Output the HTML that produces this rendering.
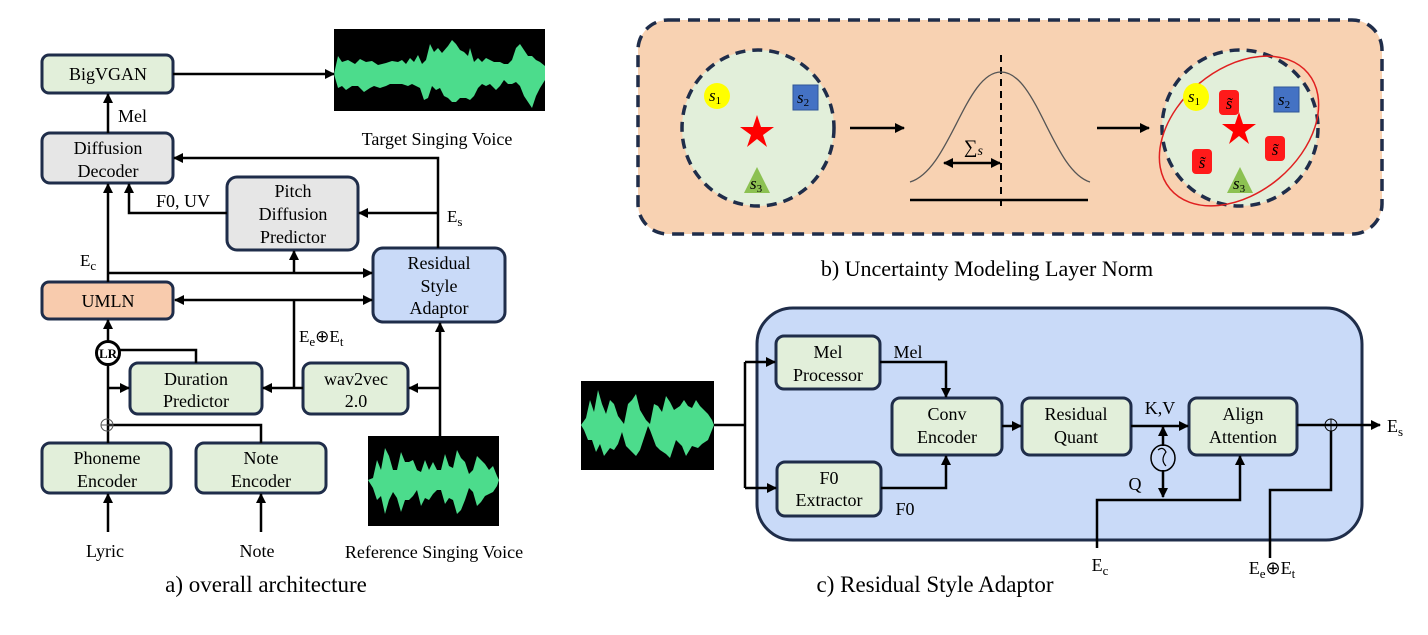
<!DOCTYPE html>
<html><head><meta charset="utf-8"><style>
html,body{margin:0;padding:0;background:#fff;}
svg, svg text{font-family:"Liberation Serif","Times New Roman",serif;}
</style></head><body>
<svg width="1428" height="630" viewBox="0 0 1428 630" xmlns="http://www.w3.org/2000/svg" font-family="Liberation Serif, serif">
<defs>
<marker id="a" markerWidth="10" markerHeight="10" refX="9" refY="5" orient="auto" markerUnits="userSpaceOnUse"><path d="M0,0 L10,5 L0,10 z" fill="#000"/></marker>
<marker id="as" markerWidth="10" markerHeight="10" refX="1" refY="5" orient="auto" markerUnits="userSpaceOnUse"><path d="M10,0 L0,5 L10,10 z" fill="#000"/></marker>
</defs>
<g stroke="#1f2d4a" stroke-width="3">
<rect x="42" y="55" width="131" height="38" rx="7" fill="#e2efda"/>
<rect x="42" y="133" width="131" height="50" rx="8" fill="#e6e6e6"/>
<rect x="227" y="177" width="131" height="73" rx="10" fill="#e6e6e6"/>
<rect x="373" y="248" width="132" height="74" rx="10" fill="#c9daf8"/>
<rect x="42" y="282" width="131" height="37" rx="7" fill="#f8cbad"/>
<rect x="130" y="363" width="132" height="51" rx="8" fill="#e2efda"/>
<rect x="303" y="363" width="105" height="51" rx="8" fill="#e2efda"/>
<rect x="42" y="443" width="129" height="50" rx="8" fill="#e2efda"/>
<rect x="196" y="443" width="130" height="50" rx="8" fill="#e2efda"/>
</g>
<rect x="334" y="29" width="211" height="82" fill="#000"/>
<polygon fill="#4cdc8c" points="334,74 338,56 342,62 348,60 355,64 360,59 366,62 372,61 378,65 386,63 392,61 398,62 402,60 406,64 410,58 414,62 418,55 422,64 426,60 430,44 434,52 438,48 442,53 448,46 452,40 456,44 460,50 464,52 468,56 470,48 474,62 478,58 482,62 486,58 490,60 494,62 500,62 504,64 508,64 512,60 516,48 520,44 524,50 528,56 532,56 536,60 540,62 545,66 545,80 540,88 536,96 532,108 528,102 524,96 520,86 516,82 512,84 508,84 504,80 500,86 496,90 490,84 486,86 482,84 478,88 474,96 470,100 466,98 460,98 456,102 452,102 448,98 444,96 440,88 436,90 432,86 428,98 424,100 420,88 416,86 412,84 408,86 402,84 398,84 394,84 390,84 386,86 380,88 374,86 370,88 364,92 358,86 352,86 346,90 342,86 338,88"/>
<rect x="368" y="436" width="131" height="90" fill="#000"/>
<polygon fill="#4cdc8c" points="368,480 373,478 377,460 381,470 385,448 389,456 393,470 397,470 401,452 405,462 409,462 413,460 417,470 421,472 425,460 429,470 433,462 437,470 441,470 445,454 449,466 453,468 457,450 461,458 465,462 469,474 473,470 477,456 481,460 485,464 489,470 493,466 497,476 499,480 497,486 493,492 489,494 485,496 481,502 477,506 473,492 469,488 465,500 461,510 457,514 453,500 449,498 445,504 441,490 437,490 433,494 429,500 425,498 421,506 417,490 413,496 409,500 405,500 401,512 397,498 393,492 389,500 385,514 381,496 377,500 373,488"/>
<g stroke="#000" stroke-width="2.5" fill="none">
<line x1="173" y1="74" x2="334" y2="74" marker-end="url(#a)"/>
<line x1="108" y1="133" x2="108" y2="94" marker-end="url(#a)"/>
<polyline points="438,248 438,158 174,158" marker-end="url(#a)"/>
<line x1="438" y1="213" x2="359" y2="213" marker-end="url(#a)"/>
<polyline points="227,213 129,213 129,184" marker-end="url(#a)"/>
<line x1="108" y1="282" x2="108" y2="184" marker-end="url(#a)"/>
<line x1="108" y1="273" x2="372" y2="273" marker-end="url(#a)"/>
<line x1="294" y1="273" x2="294" y2="251" marker-end="url(#a)"/>
<line x1="175" y1="300" x2="372" y2="300" marker-end="url(#a)" marker-start="url(#as)"/>
<polyline points="294,300 294,388"/>
<line x1="303" y1="388" x2="263" y2="388" marker-end="url(#a)"/>
<polyline points="120,350 196,350 196,363"/>
<line x1="108" y1="365" x2="108" y2="443"/>
<line x1="108" y1="388" x2="129" y2="388" marker-end="url(#a)"/>
<line x1="108" y1="341" x2="108" y2="320" marker-end="url(#a)"/>
<polyline points="108,425 261,425 261,443"/>
<line x1="440" y1="436" x2="440" y2="323" marker-end="url(#a)"/>
<line x1="440" y1="388" x2="409" y2="388" marker-end="url(#a)"/>
<line x1="108" y1="532" x2="108" y2="494" marker-end="url(#a)"/>
<line x1="261" y1="532" x2="261" y2="494" marker-end="url(#a)"/>
</g>
<circle cx="108" cy="353" r="11.5" fill="#fff" stroke="#000" stroke-width="3"/>
<text x="108" y="358" font-size="13" font-weight="bold" text-anchor="middle">LR</text>
<circle cx="107" cy="425" r="6" fill="none" stroke="#555" stroke-width="1"/>
<line x1="101" y1="425" x2="113" y2="425" stroke="#555"/>
<g font-size="18" text-anchor="middle" fill="#000">
<text x="108" y="80">BigVGAN</text>
<text x="108" y="154">Diffusion</text><text x="108" y="177">Decoder</text>
<text x="293" y="197">Pitch</text><text x="293" y="220">Diffusion</text><text x="293" y="243">Predictor</text>
<text x="439" y="269">Residual</text><text x="439" y="292">Style</text><text x="439" y="314">Adaptor</text>
<text x="108" y="307">UMLN</text>
<text x="196" y="385">Duration</text><text x="196" y="407">Predictor</text>
<text x="356" y="385">wav2vec</text><text x="356" y="407">2.0</text>
<text x="107" y="464">Phoneme</text><text x="107" y="487">Encoder</text>
<text x="261" y="464">Note</text><text x="261" y="487">Encoder</text>
<text x="118" y="122" text-anchor="start">Mel</text>
<text x="156" y="207" text-anchor="start">F0, UV</text>
<text x="437" y="145">Target Singing Voice</text>
<text x="105" y="557">Lyric</text>
<text x="257" y="557">Note</text>
<text x="434" y="558">Reference Singing Voice</text>
<text x="266" y="592" font-size="23">a) overall architecture</text>
<text x="447" y="222" font-size="17" text-anchor="start">E<tspan font-size="13" dy="4">s</tspan></text>
<text x="80" y="266" font-size="17" text-anchor="start">E<tspan font-size="13" dy="4">c</tspan></text>
<text x="299" y="342" font-size="17" text-anchor="start">E<tspan font-size="13" dy="4">e</tspan><tspan dy="-4">⊕E</tspan><tspan font-size="13" dy="4">t</tspan></text>
</g>
<!-- part b -->
<rect x="638" y="20" width="744" height="214" rx="30" fill="#f8d2b2" stroke="#1f2d4a" stroke-width="3.5" stroke-dasharray="12,8"/>
<ellipse cx="758" cy="128" rx="76" ry="78" fill="#e2efda" stroke="#1f2d4a" stroke-width="3.5" stroke-dasharray="10,7"/>
<ellipse cx="1240" cy="128" rx="78" ry="78" fill="#e2efda" stroke="#1f2d4a" stroke-width="3.5" stroke-dasharray="10,7"/>
<ellipse cx="1239" cy="131" rx="62" ry="90" transform="rotate(50 1239 131)" fill="none" stroke="#e02020" stroke-width="1.5"/>
<ellipse cx="717" cy="96" rx="13" ry="13" fill="#ffff00"/>
<rect x="793" y="85" width="25" height="25" fill="#4472c4" stroke="#2f5597"/>
<polygon points="757,167 744,193 770,193" fill="#8cc152"/>
<polygon points="757,115 761,127 774,127 763,135 767,147 757,139 747,147 751,135 740,127 753,127" fill="#ff0000"/>
<ellipse cx="1196" cy="97" rx="13" ry="14" fill="#ffff00"/>
<rect x="1274" y="87" width="25" height="25" fill="#4472c4" stroke="#2f5597"/>
<polygon points="1240,167 1227,193 1253,193" fill="#8cc152"/>
<polygon points="1239,112 1243,124 1256,124 1245,132 1249,144 1239,136 1229,144 1233,132 1222,124 1235,124" fill="#ff0000"/>
<rect x="1219" y="90" width="20" height="25" rx="4" fill="#ff1a1a"/>
<rect x="1265" y="136" width="20" height="25" rx="4" fill="#ff1a1a"/>
<rect x="1192" y="149" width="20" height="25" rx="4" fill="#ff1a1a"/>
<g font-size="17" font-style="italic" text-anchor="middle">
<text x="715" y="101">s<tspan font-size="11" dy="3" font-style="normal">1</tspan></text>
<text x="803" y="103">s<tspan font-size="11" dy="3" font-style="normal">2</tspan></text>
<text x="756" y="189">s<tspan font-size="11" dy="3" font-style="normal">3</tspan></text>
<text x="1194" y="102">s<tspan font-size="11" dy="3" font-style="normal">1</tspan></text>
<text x="1284" y="105">s<tspan font-size="11" dy="3" font-style="normal">2</tspan></text>
<text x="1239" y="189">s<tspan font-size="11" dy="3" font-style="normal">3</tspan></text>
<text x="1229" y="109">s̃</text><text x="1275" y="155">s̃</text><text x="1202" y="168">s̃</text>
</g>
<g stroke="#000" stroke-width="2.5" fill="none">
<line x1="850" y1="128" x2="904" y2="128" marker-end="url(#a)"/>
<line x1="1097" y1="128" x2="1149" y2="128" marker-end="url(#a)"/>
<line x1="910" y1="200" x2="1088" y2="200"/>
<line x1="1001" y1="55" x2="1001" y2="207" stroke-width="2" stroke-dasharray="7,5"/>
<line x1="944" y1="163" x2="1000" y2="163" marker-end="url(#a)" marker-start="url(#as)"/>
</g>
<path d="M910,182 C950,170 965,72 1001,72 C1037,72 1052,170 1090,182" fill="none" stroke="#555" stroke-width="1.3"/>
<text x="964" y="153" font-size="19">∑<tspan font-style="italic" font-size="14" dy="2">s</tspan></text>
<text x="987" y="276" font-size="22" text-anchor="middle">b) Uncertainty Modeling Layer Norm</text>
<!-- part c -->
<rect x="757" y="308" width="605" height="232" rx="36" fill="#c9daf8" stroke="#1f2d4a" stroke-width="3"/>
<rect x="581" y="381" width="133" height="89" fill="#000"/>
<polygon fill="#4cdc8c" points="581,425 586,418 590,400 594,412 598,390 602,404 606,414 610,400 614,404 618,416 624,424 628,404 632,400 636,394 640,410 646,420 650,424 654,404 658,406 662,412 666,396 670,402 674,410 680,406 684,400 688,406 692,408 696,400 700,406 704,410 708,414 712,420 714,425 712,430 708,440 702,444 698,448 692,446 686,456 682,446 676,440 670,458 666,454 660,450 656,446 650,430 648,426 644,438 640,450 636,456 630,450 626,446 622,432 618,444 614,450 610,448 604,456 600,444 596,452 592,440 588,440 584,430"/>
<g stroke="#1f2d4a" stroke-width="3">
<rect x="776" y="336" width="104" height="53" rx="8" fill="#e2efda"/>
<rect x="777" y="462" width="104" height="54" rx="8" fill="#e2efda"/>
<rect x="892" y="398" width="110" height="57" rx="8" fill="#e2efda"/>
<rect x="1022" y="398" width="109" height="57" rx="8" fill="#e2efda"/>
<rect x="1189" y="398" width="108" height="57" rx="8" fill="#e2efda"/>
</g>
<g stroke="#000" stroke-width="2.5" fill="none">
<line x1="714" y1="425" x2="745" y2="425"/>
<polyline points="745,362 745,488"/>
<line x1="745" y1="362" x2="775" y2="362" marker-end="url(#a)"/>
<line x1="745" y1="488" x2="776" y2="488" marker-end="url(#a)"/>
<polyline points="880,362 946,362 946,397" marker-end="url(#a)"/>
<polyline points="881,488 946,488 946,456" marker-end="url(#a)"/>
<line x1="1002" y1="426" x2="1021" y2="426" marker-end="url(#a)"/>
<line x1="1131" y1="426" x2="1188" y2="426" marker-end="url(#a)"/>
<line x1="1163" y1="446" x2="1163" y2="427" marker-end="url(#a)"/>
<line x1="1163" y1="470" x2="1163" y2="497" marker-end="url(#a)"/>
<polyline points="1097,548 1097,500 1240,500 1240,456" marker-end="url(#a)"/>
<polyline points="1270,558 1270,490 1331,490 1331,431"/>
<line x1="1297" y1="425" x2="1380" y2="425" marker-end="url(#a)"/>
</g>
<ellipse cx="1163" cy="458" rx="12" ry="13" fill="none" stroke="#000" stroke-width="1.5"/>
<path d="M1158,450 Q1163,446 1166,452 Q1160,460 1166,466" fill="none" stroke="#000" stroke-width="1.2"/>
<circle cx="1331" cy="425" r="6" fill="none" stroke="#000" stroke-width="1"/>
<line x1="1331" y1="419" x2="1331" y2="431" stroke="#000" stroke-width="1"/>
<g font-size="18" text-anchor="middle">
<text x="828" y="358">Mel</text><text x="828" y="381">Processor</text>
<text x="829" y="484">F0</text><text x="829" y="506">Extractor</text>
<text x="947" y="420">Conv</text><text x="947" y="443">Encoder</text>
<text x="1076" y="420">Residual</text><text x="1076" y="443">Quant</text>
<text x="1243" y="420">Align</text><text x="1243" y="443">Attention</text>
<text x="908" y="358">Mel</text>
<text x="905" y="515">F0</text>
<text x="1160" y="414">K,V</text>
<text x="1135" y="490">Q</text>
<text x="1395" y="432">E<tspan font-size="13" dy="4">s</tspan></text>
<text x="1100" y="571">E<tspan font-size="13" dy="4">c</tspan></text>
<text x="1272" y="574">E<tspan font-size="13" dy="4">e</tspan><tspan dy="-4">⊕E</tspan><tspan font-size="13" dy="4">t</tspan></text>
<text x="935" y="592" font-size="23">c) Residual Style Adaptor</text>
</g>
</svg>
</body></html>
